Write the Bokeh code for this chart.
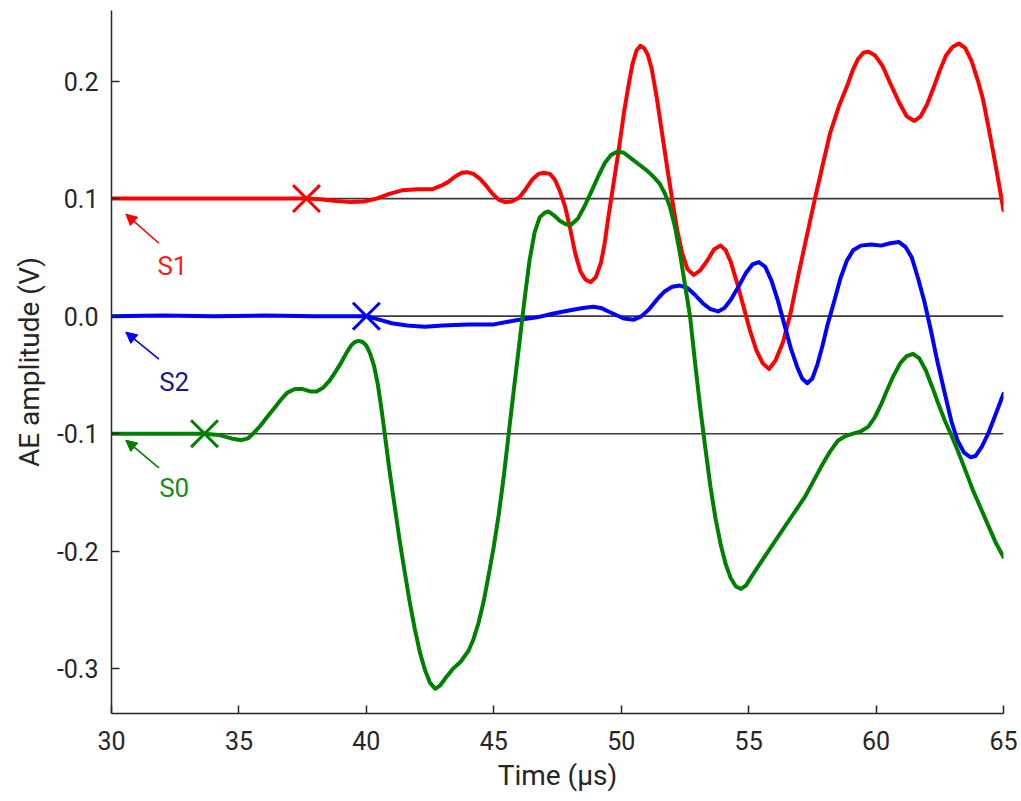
from bokeh.plotting import figure
from bokeh.models import Range1d, Arrow, NormalHead, FixedTicker, Label
from bokeh.embed import file_html
from bokeh.resources import INLINE

# ---------------- data ----------------
s1_t = [30, 31, 32, 33, 34, 35, 36, 37, 37.65, 38.2, 38.8, 39.4, 39.9, 40.4, 40.9, 41.4, 42.0, 42.6,
        42.94, 43.2, 43.5, 43.75, 43.95, 44.2, 44.45, 44.7, 44.95, 45.2, 45.45, 45.7, 46.0, 46.25, 46.5,
        46.75, 46.96, 47.2, 47.4, 47.6, 47.8, 48.0, 48.2, 48.4, 48.6, 48.8, 49.0, 49.2, 49.35, 49.5, 49.7,
        49.9, 50.1, 50.3, 50.45, 50.6, 50.75, 50.9, 51.05, 51.2, 51.4, 51.6, 51.8, 52.0, 52.2, 52.4, 52.6,
        52.85, 53.1, 53.4, 53.65, 53.9, 54.1, 54.3, 54.55, 54.8, 55.05, 55.3, 55.55, 55.8, 56.05, 56.35,
        56.65, 56.96, 57.3, 57.6, 57.9, 58.2, 58.55, 58.9, 59.1, 59.3, 59.5, 59.7, 59.95, 60.25, 60.6,
        60.9, 61.2, 61.5, 61.75, 62.0, 62.25, 62.5, 62.75, 63.0, 63.25, 63.5, 63.75, 64.0, 64.2, 64.4,
        64.6, 64.8, 65.0]
s1_v = [0.1, 0.1, 0.1, 0.1, 0.1, 0.1, 0.1, 0.1, 0.1, 0.0995, 0.098, 0.097, 0.0975, 0.1, 0.104, 0.107, 0.108, 0.108,
        0.111, 0.114, 0.119, 0.122, 0.1225, 0.121, 0.117, 0.111, 0.104, 0.099, 0.097, 0.0975, 0.101, 0.108, 0.116,
        0.121, 0.122, 0.121, 0.116, 0.106, 0.093, 0.074, 0.053, 0.038, 0.031, 0.029, 0.033, 0.045, 0.062, 0.085, 0.113,
        0.141, 0.172, 0.198, 0.215, 0.226, 0.230, 0.228, 0.222, 0.210, 0.185, 0.156, 0.127, 0.099, 0.073, 0.053, 0.040,
        0.035, 0.039, 0.048, 0.057, 0.060, 0.056, 0.046, 0.028, 0.008, -0.012, -0.029, -0.040, -0.045, -0.038, -0.022,
        0.003, 0.036, 0.070, 0.100, 0.128, 0.156, 0.179, 0.198, 0.210, 0.219, 0.224, 0.225, 0.222, 0.213, 0.196,
        0.182, 0.170, 0.166, 0.170, 0.180, 0.194, 0.209, 0.222, 0.229, 0.232, 0.228, 0.217, 0.200, 0.184, 0.162,
        0.139, 0.115, 0.09]

s2_t = [30, 32, 34, 36, 38, 40.0, 40.5, 41.0, 41.6, 42.3, 43.0, 44.0, 45.0, 45.5, 46.0, 46.7, 47.3, 48.0,
        48.5, 48.9, 49.2, 49.5, 49.8, 50.1, 50.5, 50.8, 51.1, 51.4, 51.7, 52.0, 52.3, 52.6, 52.9, 53.2,
        53.5, 53.8, 54.05, 54.3, 54.6, 54.9, 55.15, 55.4, 55.65, 55.9, 56.15, 56.4, 56.65, 56.9, 57.1,
        57.3, 57.5, 57.7, 57.9, 58.1, 58.35, 58.6, 58.85, 59.1, 59.4, 59.8, 60.2, 60.55, 60.9, 61.15,
        61.4, 61.65, 61.9, 62.15, 62.4, 62.7, 62.95, 63.2, 63.45, 63.7, 63.9, 64.15, 64.4, 64.7, 65.0]
s2_v = [0.0, 0.0005, 0.0, 0.0005, 0.0, 0.0, -0.003, -0.006, -0.008, -0.009, -0.008, -0.007, -0.007, -0.005, -0.003,
        -0.001, 0.002, 0.005, 0.007, 0.008, 0.007, 0.004, 0.001, -0.002, -0.003, 0.0, 0.006, 0.014, 0.021, 0.025,
        0.026, 0.024, 0.018, 0.011, 0.006, 0.004, 0.007, 0.014, 0.025, 0.037, 0.044, 0.046, 0.042, 0.030, 0.013,
        -0.007, -0.027, -0.043, -0.053, -0.057, -0.053, -0.041, -0.025, -0.007, 0.012, 0.032, 0.047, 0.056, 0.060,
        0.061, 0.060, 0.062, 0.063, 0.059, 0.050, 0.032, 0.012, -0.012, -0.038, -0.066, -0.089, -0.106, -0.116,
        -0.120, -0.119, -0.111, -0.100, -0.083, -0.066]

s0_t = [30, 31, 32, 33, 33.65, 34.2, 34.7, 35.1, 35.35, 35.6, 35.85, 36.1, 36.4, 36.65, 36.9, 37.2, 37.5,
        37.8, 38.05, 38.3, 38.55, 38.8, 39.0, 39.2, 39.4, 39.55, 39.7, 39.85, 40.0, 40.15, 40.3, 40.45,
        40.6, 40.75, 40.9, 41.1, 41.3, 41.5, 41.7, 41.9, 42.1, 42.3, 42.5, 42.7, 42.9, 43.1, 43.4, 43.7,
        44.0, 44.2, 44.4, 44.6, 44.8, 45.0, 45.2, 45.4, 45.6, 45.8, 46.0, 46.2, 46.4, 46.6, 46.8, 47.0,
        47.15, 47.35, 47.6, 47.85, 48.05, 48.3, 48.55, 48.85, 49.1, 49.35, 49.6, 49.85, 50.1, 50.4, 50.7,
        51.0, 51.25, 51.5, 51.7, 51.9, 52.1, 52.3, 52.5, 52.7, 52.9, 53.1, 53.3, 53.5, 53.7, 53.9, 54.1,
        54.3, 54.5, 54.7, 54.9, 55.1, 55.4, 55.8, 56.2, 56.7, 57.2, 57.6, 57.9, 58.2, 58.5, 58.8, 59.1,
        59.4, 59.7, 59.95, 60.2, 60.45, 60.7, 60.95, 61.2, 61.45, 61.7, 61.95, 62.2, 62.45, 62.7, 62.95,
        63.2, 63.5, 63.8, 64.1, 64.4, 64.7, 65.0]
s0_v = [-0.1, -0.1, -0.1, -0.1, -0.1, -0.101, -0.104, -0.1055, -0.104, -0.099, -0.093, -0.086, -0.078, -0.071,
        -0.065, -0.062, -0.062, -0.064, -0.064, -0.061, -0.055, -0.047, -0.040, -0.032, -0.025, -0.022, -0.021,
        -0.022, -0.025, -0.032, -0.042, -0.058, -0.080, -0.105, -0.130, -0.160, -0.190, -0.217, -0.243, -0.266,
        -0.286, -0.301, -0.312, -0.317, -0.314, -0.308, -0.300, -0.294, -0.285, -0.275, -0.261, -0.243, -0.220,
        -0.196, -0.168, -0.135, -0.097, -0.060, -0.024, 0.013, 0.047, 0.071, 0.084, 0.088, 0.089, 0.086, 0.081,
        0.078, 0.078, 0.083, 0.093, 0.107, 0.119, 0.130, 0.137, 0.140, 0.139, 0.134, 0.129, 0.124, 0.119, 0.113,
        0.105, 0.094, 0.077, 0.054, 0.027, 0.0, -0.040, -0.078, -0.112, -0.145, -0.172, -0.194, -0.211, -0.223,
        -0.230, -0.232, -0.229, -0.222, -0.212, -0.199, -0.186, -0.170, -0.154, -0.138, -0.126, -0.115, -0.106,
        -0.102, -0.100, -0.098, -0.094, -0.086, -0.075, -0.062, -0.050, -0.040, -0.034, -0.032, -0.036, -0.046,
        -0.060, -0.075, -0.089, -0.101, -0.114, -0.131, -0.148, -0.163, -0.178, -0.193, -0.205]

onset_t = [37.65, 40.0, 33.65]
onset_v = [0.1, 0.0, -0.1]
offsets = [0.1, 0.0, -0.1]
series_names = ["S1", "S2", "S0"]
line_colors = ["#ff0000", "#0000ff", "#008000"]
text_colors = ["#ff1a1a", "#1a1a8c", "#1a8c1a"]

x_ticks = [30, 35, 40, 45, 50, 55, 60, 65]
y_ticks = [-0.3, -0.2, -0.1, 0.0, 0.1, 0.2]
y_tick_labels = {-0.3: "-0.3", -0.2: "-0.2", -0.1: "-0.1", 0.0: "0.0", 0.1: "0.1", 0.2: "0.2"}

# ---------------- figure ----------------
FONT = "Roboto"
TXT = "#262626"

p = figure(width=1021, height=801, output_backend="svg", toolbar_location=None,
           x_range=Range1d(30, 65), y_range=Range1d(-0.338, 0.26),
           min_border_left=111, min_border_right=18, min_border_top=10, min_border_bottom=88)
p.outline_line_color = None
p.grid.visible = False
p.background_fill_color = "white"
p.border_fill_color = "white"

# baselines
p.segment(x0=[x_ticks[0]] * 3, x1=[x_ticks[-1]] * 3, y0=offsets, y1=offsets,
          line_color="#3a3a3a", line_width=1.6)

sers = [(s1_t, s1_v), (s2_t, s2_v), (s0_t, s0_v)]
for (t, v), c in zip(sers, line_colors):
    p.line(t, v, line_color=c, line_width=4, line_join="round", line_cap="round")

p.scatter(onset_t, onset_v, marker="x", size=38, line_color=line_colors, line_width=3)

# annotations (arrows + names)
arrow_spec = [
    ((31.86, 0.062), (30.56, 0.0868), (32.39, 0.043)),
    ((31.86, -0.0366), (30.56, -0.0136), (32.46, -0.056)),
    ((31.86, -0.129), (30.56, -0.1055), (32.46, -0.146)),
]
for (tail, tip, lab), name, lc, tc in zip(arrow_spec, series_names, line_colors, text_colors):
    p.add_layout(Arrow(x_start=tail[0], y_start=tail[1], x_end=tip[0], y_end=tip[1],
                       line_color=lc, line_width=1.6,
                       end=NormalHead(size=11, fill_color=lc, line_color=lc, line_width=1)))
    p.add_layout(Label(x=lab[0], y=lab[1], text=name, text_color=tc, text_font=FONT,
                       text_font_size="26px", text_align="center", text_baseline="middle"))

# axes
for ax in (p.xaxis[0], p.yaxis[0]):
    ax.axis_line_color = TXT
    ax.axis_line_width = 1.5
    ax.major_tick_line_color = TXT
    ax.major_tick_line_width = 1.5
    ax.major_tick_in = 8
    ax.major_tick_out = 0
    ax.minor_tick_line_color = None
    ax.major_label_text_font = FONT
    ax.major_label_text_font_size = "25px"
    ax.major_label_text_color = TXT
    ax.axis_label_text_font = FONT
    ax.axis_label_text_font_size = "28px"
    ax.axis_label_text_font_style = "normal"
    ax.axis_label_text_color = TXT

p.xaxis.ticker = FixedTicker(ticks=x_ticks)
p.yaxis.ticker = FixedTicker(ticks=y_ticks)
p.yaxis.major_label_overrides = y_tick_labels
p.xaxis.axis_label = "Time (μs)"
p.yaxis.axis_label = "AE amplitude (V)"
p.xaxis.major_label_standoff = 17
p.yaxis.major_label_standoff = 13
p.xaxis.axis_label_standoff = 6
p.yaxis.axis_label_standoff = 8

open("out.html", "w").write(file_html(p, INLINE))
